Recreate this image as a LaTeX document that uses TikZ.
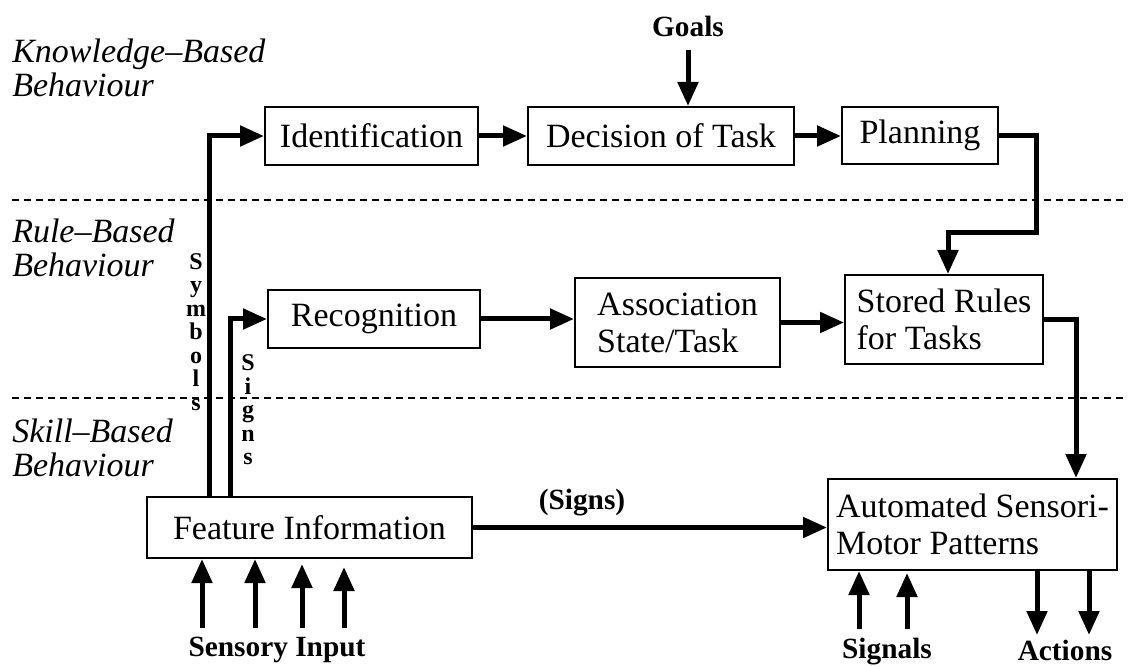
\documentclass[tikz,border=0pt]{standalone}
\usepackage{fontspec}
\setmainfont{Liberation Serif}
\usepackage{tikz}
\usetikzlibrary{arrows.meta}
\usetikzlibrary{calc}
\newcommand\boxfont{\fontsize{25.5}{27.75}\selectfont}
\newcommand\lblfont{\fontsize{22}{24}\selectfont\bfseries}
\newcommand\levelfont{\fontsize{25.5}{25.5}\selectfont\itshape}
\newcommand\stackfont{\fontsize{18}{17.6}\selectfont\bfseries}

\begin{document}
\begin{tikzpicture}[x=0.75pt,y=-0.75pt,
	blk/.style={draw,line width=1.5pt,inner sep=0pt,font=\boxfont},
	sz/.style 2 args={minimum width=#1*0.75pt,minimum height=#2*0.75pt},
	flow/.style={line width=3.75pt,-{Triangle[length=18pt,width=15pt]}},
	lbl/.style={inner sep=0pt,font=\lblfont},
	level/.style={inner sep=0pt,anchor=base west,align=left,font=\levelfont},
	stack/.style={inner sep=0pt,align=center,font=\stackfont},
	sep/.style={line width=1.5pt,dash pattern=on 5.25pt off 3.75pt}]
	\useasboundingbox (0,0) rectangle (1128,666);
	
	%level borders
	\draw[sep] (12,200)--(1128,200);
	\draw[sep] (12,398)--(1128,398);
	
	%level names (base is the last line)
	\node[level] (know) at (12,97) {Knowledge--Based\\Behaviour};
	\node[level] (rule) at (12,277) {Rule--Based\\Behaviour};
	\node[level] (skill) at (12,476) {Skill--Based\\Behaviour};
	
	%knowledge level
	\node[blk,sz={213}{58}] (ident) at (371.5,136) {Identification};
	\node[blk,sz={266}{58}] (decision) at (661,136) {Decision of Task};
	\node[blk,sz={156}{57}] (planning) at (920,135.5) {Planning};
	\node[lbl] (goals) at (688,26) {Goals};
	
	%rule level
	\node[blk,align=left,sz={212}{58}] (recog) at (374,319) {Recognition};
	\node[blk,align=left,sz={205}{89}] (assoc) at (677.5,322.5) {Association\\State/Task};
	\node[blk,align=left,sz={198}{89}] (stored) at (944,319.5) {Stored Rules\\for Tasks};
	
	%skill level
	\node[blk,sz={325}{61}] (feature) at (309.5,527.5) {Feature Information};
	\node[blk,align=left,sz={289}{91}] (auto) at (972.5,524.5) {Automated Sensori-\\Motor Patterns};
	
	%vertical labels
	\node[stack] (symbols) at (196,332) {S\\y\\m\\b\\o\\l\\s};
	\node[stack] (signs) at (248,410) {S\\i\\g\\n\\s};
	\node[lbl] (signsb) at (582,503) {(Signs)};
	
	%bottom labels
	\node[lbl] (sensory) at (277,650) {Sensory Input};
	\node[lbl] (signals) at (887,652) {Signals};
	\node[lbl] (actions) at (1065,650) {Actions};
	
	%top row
	\draw[flow] (goals.south) ++(0,13) -- (goals.south |- decision.north);
	\draw[flow] (ident.east) -- (decision.west);
	\draw[flow] (decision.east) -- (decision.east -| planning.west);
	\draw[flow] (planning.east) -- ++(37,0) -- ++(0,97) -| ($(stored.north)+(4,0)$);
	
	%middle row
	\draw[flow] (recog.east) -- (recog.east -| assoc.west);
	\draw[flow] (assoc.east) -- (assoc.east -| stored.west);
	\draw[flow] (stored.east) -| ($(auto.north east)+(-42,0)$);
	
	%symbols and signs up from the features
	\draw[flow] ($(feature.north west)+(63,0)$) |- (ident.west);
	\draw[flow] ($(feature.north west)+(84,0)$) |- (recog.west);
	\draw[flow] (feature.east) -- (feature.east -| auto.west);
	
	%inputs and outputs
	\foreach \dx/\gap in {56/0,109/0,156/5,198/8}
		\draw[flow] ($(feature.south west)+(\dx,69)$) -- ($(feature.south west)+(\dx,\gap)$);
	\foreach \dx/\gap in {32/0,80/2}
		\draw[flow] ($(auto.south west)+(\dx,58)$) -- ($(auto.south west)+(\dx,\gap)$);
	\foreach \dx in {210,262}
		\draw[flow] ($(auto.south west)+(\dx,0)$) -- ++(0,64);
\end{tikzpicture}
\end{document}
